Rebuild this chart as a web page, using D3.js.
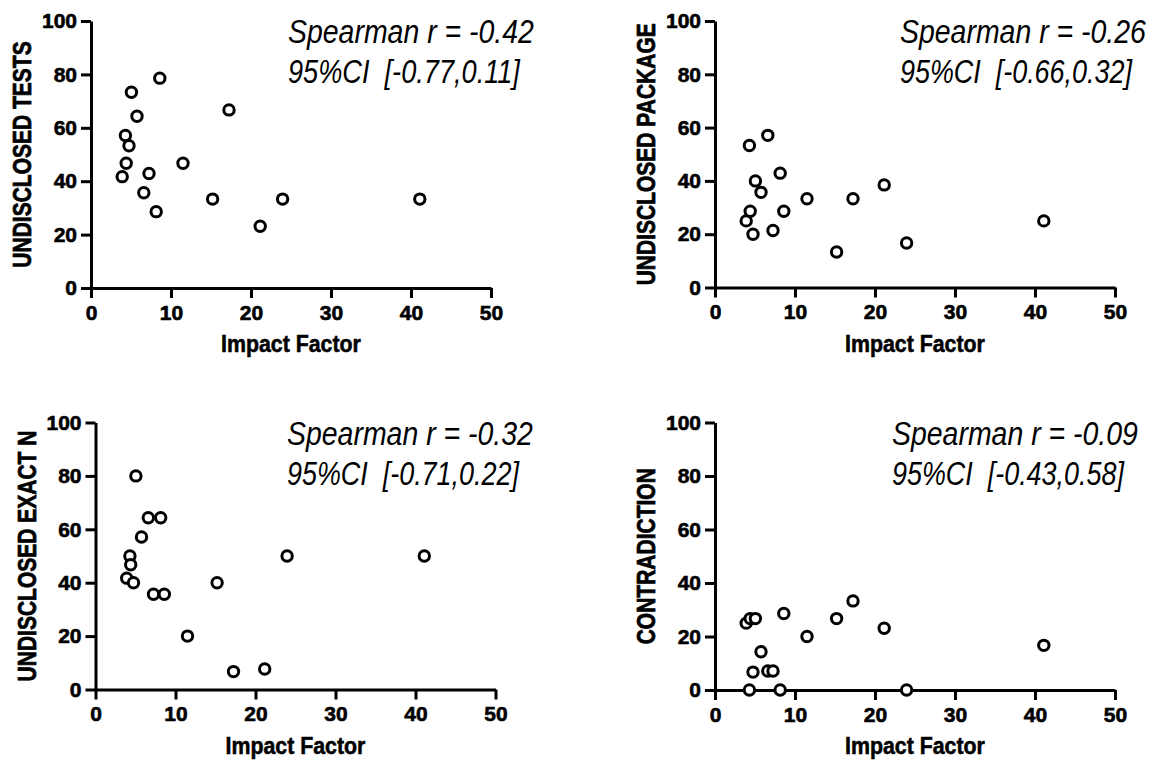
<!DOCTYPE html>
<html>
<head>
<meta charset="utf-8">
<script src="https://cdn.jsdelivr.net/npm/d3@7"></script>
<style>
  html, body { margin: 0; padding: 0; background: #fff; }
  svg { display: block; }
  text { font-family: "Liberation Sans", Arial, Helvetica, sans-serif; fill: #000; }
  .tick text { font-weight: bold; font-size: 21px; stroke: #000; stroke-width: 0.6px; }
  .ylab { font-weight: bold; font-size: 21px; stroke: #000; stroke-width: 0.6px; }
  .xlab { font-weight: bold; font-size: 23.5px; stroke: #000; stroke-width: 0.55px; }
  .stat { font-style: italic; font-size: 32.5px; white-space: pre; }
</style>
</head>
<body>
<svg id="chart" width="1162" height="760"></svg>
<script>
// Journal impact factors (shared x values for every panel)
const impactFactor = [3.9, 4.3, 4.4, 4.75, 5.05, 5.75, 6.6, 7.25, 8.15, 8.6, 11.5, 15.2, 17.25, 21.15, 23.95, 41.1];

// Percentages per journal, one array per outcome
const undisclosedTests   = [41.7, 57.1, 46.7, 53.3, 73.3, 64.3, 35.7, 42.9, 28.6, 78.6, 46.7, 33.3, 66.7, 23.1, 33.3, 33.3];
const undisclosedPackage = [25, 53.3, 28.6, 20, 40, 35.7, 57.1, 21.4, 42.9, 28.6, 33.3, 13.3, 33.3, 38.5, 16.7, 25];
const undisclosedExactN  = [41.7, 50, 46.7, 40, 80, 57.1, 64.3, 35.7, 64.3, 35.7, 20, 40, 6.7, 7.7, 50, 50];
const contradiction      = [25, 0, 26.7, 6.7, 26.7, 14.3, 7.1, 7.1, 0, 28.6, 20, 26.7, 33.3, 23.1, 0, 16.7];

const yTitles   = ["UNDISCLOSED TESTS", "UNDISCLOSED PACKAGE", "UNDISCLOSED EXACT N", "CONTRADICTION"];
const spearmanR = ["-0.42", "-0.26", "-0.32", "-0.09"];
const ciLow     = ["-0.77", "-0.66", "-0.71", "-0.43"];
const ciHigh    = ["0.11", "0.32", "0.22", "0.58"];
const xTitle    = "Impact Factor";
const xTicks    = [0, 10, 20, 30, 40, 50];
const yTicks    = [0, 20, 40, 60, 80, 100];

const series = [undisclosedTests, undisclosedPackage, undisclosedExactN, contradiction];

// Plot frames for the 2x2 grid
const frames = [
  { x0: 91,   x1: 491,   top: 21,    bottom: 288,   textX: 288 },
  { x0: 715,  x1: 1115,  top: 21,    bottom: 287.5, textX: 900 },
  { x0: 95.5, x1: 495.5, top: 422.5, bottom: 689.5, textX: 287 },
  { x0: 715,  x1: 1115,  top: 422.5, bottom: 690,   textX: 892 }
];

const svg = d3.select("#chart");

function styleAxis(sel) {
  sel.selectAll("path, line").attr("stroke", "#000").attr("stroke-width", 3);
}

// Place a text at (x, y) and squeeze it horizontally to the given width
function fitText(parent, cls, x, y, width, str, anchor) {
  const t = parent.append("text").attr("class", cls).text(str);
  const len = t.node().getComputedTextLength();
  const k = width / len;
  const dx = anchor === "middle" ? -width / 2 : 0;
  t.attr("transform", `translate(${x + dx},${y}) scale(${k},1)`);
  return t;
}

frames.forEach((f, i) => {
  const x = d3.scaleLinear().domain([0, 50]).range([f.x0, f.x1]);
  const y = d3.scaleLinear().domain([0, 100]).range([f.bottom, f.top]);
  const g = svg.append("g");

  g.append("g")
    .attr("transform", `translate(0,${f.bottom})`)
    .call(d3.axisBottom(x).tickValues(xTicks).tickSize(10).tickSizeOuter(0).tickPadding(7))
    .call(styleAxis);
  g.append("g")
    .attr("transform", `translate(${f.x0},0)`)
    .call(d3.axisLeft(y).tickValues(yTicks).tickSize(10).tickSizeOuter(0).tickPadding(4))
    .call(styleAxis);

  // y title
  const cy = (f.top + f.bottom) / 2;
  g.append("text").attr("class", "ylab")
    .attr("transform", `translate(${f.x0 - 69},${cy}) rotate(-90) scale(1,1.25)`)
    .attr("text-anchor", "middle")
    .attr("dominant-baseline", "central")
    .text(yTitles[i]);

  // x title
  fitText(g, "xlab", (f.x0 + f.x1) / 2, f.bottom + 64, 140, xTitle, "middle");

  // correlation annotation
  fitText(g, "stat", f.textX, f.top + 22, 246, `Spearman r = ${spearmanR[i]}`);
  fitText(g, "stat", f.textX, f.top + 62, 232, `95%CI  [${ciLow[i]},${ciHigh[i]}]`);

  // points
  g.append("g").selectAll("circle")
    .data(impactFactor.map((v, j) => [v, series[i][j]]))
    .join("circle")
    .attr("cx", d => x(d[0]))
    .attr("cy", d => y(d[1]))
    .attr("r", 5.2)
    .attr("fill", "#fff")
    .attr("stroke", "#000")
    .attr("stroke-width", 3);
});
</script>
</body>
</html>
